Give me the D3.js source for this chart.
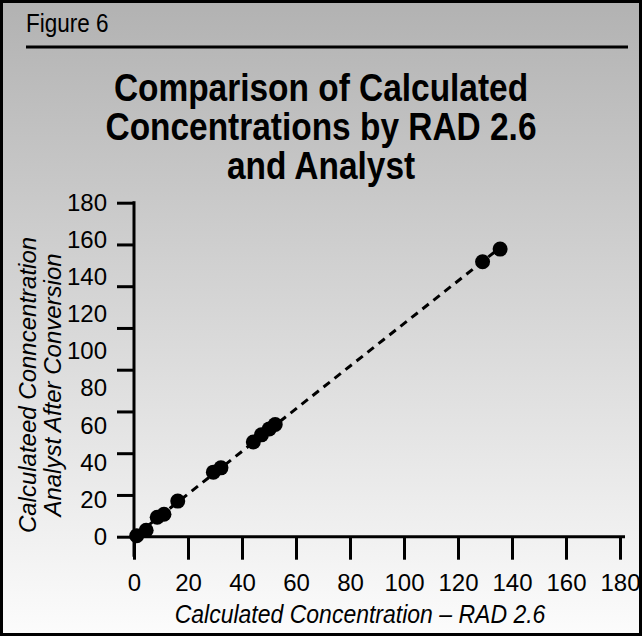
<!DOCTYPE html>
<meta charset="utf-8">
<html>
<head>
<style>
    body { margin: 0; }
    svg text { font-family: "Liberation Sans", Arial, sans-serif; fill: #000; }
</style>
</head>
<body>
<script src="https://d3js.org/d3.v7.min.js"></script>
<svg width="642" height="636"></svg>
<script>

    // readings: RAD 2.6 value vs analyst value after conversion
    var radValues     = [1, 4.5, 8.6, 11.1, 16.2, 29.4, 32.2, 44.2, 47.2, 50.1, 52.3, 129.1, 135.6];
    var analystValues = [0.5, 3.5, 10.5, 12.1, 19.2, 34.8, 37.1, 51.0, 54.9, 58.1, 60.5, 148.2, 155.0];
    var xTicks = [0, 20, 40, 60, 80, 100, 120, 140, 160, 180];
    var yTicks = [0, 20, 40, 60, 80, 100, 120, 140, 160, 180];
    var yTickMarks = [0, 22.5, 45, 67.5, 90, 112.5, 135, 157.5, 180];

    var svg = d3.select("svg");

    // grey-to-white background
    var grad = svg.append("defs").append("linearGradient")
        .attr("id", "bg").attr("x1", 0).attr("y1", 0).attr("x2", 0).attr("y2", 1);
    grad.append("stop").attr("offset", "0%").attr("stop-color", "#b2b2b2");
    grad.append("stop").attr("offset", "100%").attr("stop-color", "#fcfcfc");

    svg.append("rect")
        .attr("x", 1.5).attr("y", 1.5)
        .attr("width", 639).attr("height", 633)
        .attr("fill", "url(#bg)")
        .attr("stroke", "#000")
        .attr("stroke-width", 3);

    // header
    svg.append("text")
        .attr("transform", "translate(26,32) scale(0.9,1)")
        .attr("font-size", "25px")
        .text("Figure 6");

    svg.append("line")
        .attr("x1", 26).attr("x2", 628)
        .attr("y1", 47).attr("y2", 47)
        .attr("stroke", "#000").attr("stroke-width", 3);

    var titleLines = ["Comparison of Calculated", "Concentrations by RAD 2.6", "and Analyst"];
    svg.append("text")
        .attr("transform", "translate(321,0) scale(0.88,1)")
        .attr("text-anchor", "middle")
        .attr("font-size", "38px")
        .attr("font-weight", "bold")
        .selectAll("tspan")
        .data(titleLines)
        .enter().append("tspan")
        .attr("x", 0)
        .attr("y", function (d, i) { return 101 + i * 39; })
        .text(function (d) { return d; });

    // scales
    var x = d3.scaleLinear().domain([0, 180]).range([134, 620]);
    var y = d3.scaleLinear().domain([0, 180]).range([536.7, 202.7]);

    // y axis: tick marks and labels sit on different spacings in the original
    var yMarks = svg.append("g")
        .attr("transform", "translate(" + x(0) + ",0)")
        .call(d3.axisLeft(y).tickValues(yTickMarks).tickSize(17).tickFormat(""));

    var yLabels = svg.append("g")
        .attr("transform", "translate(" + x(0) + ",0)")
        .call(d3.axisLeft(y).tickValues(yTicks).tickSize(0).tickPadding(27));

    var xAxis = svg.append("g")
        .attr("transform", "translate(0," + y(0) + ")")
        .call(d3.axisBottom(x).tickValues(xTicks).tickSize(23).tickPadding(14));

    [yMarks, yLabels, xAxis].forEach(function (g) {
        g.select(".domain").remove();
        g.selectAll(".tick line").attr("stroke", "#000").attr("stroke-width", 3);
        g.selectAll(".tick text")
            .attr("font-family", "Liberation Sans, Arial, sans-serif")
            .attr("font-size", "24px")
            .attr("fill", "#000");
    });

    // axis lines
    svg.append("line")
        .attr("x1", x(0)).attr("x2", x(0))
        .attr("y1", y(180) - 1.5).attr("y2", y(0) + 20)
        .attr("stroke", "#000").attr("stroke-width", 3);
    svg.append("line")
        .attr("x1", x(0)).attr("x2", x(180) + 5)
        .attr("y1", y(0)).attr("y2", y(0))
        .attr("stroke", "#000").attr("stroke-width", 3);

    // fitted dashed line
    var mx = d3.mean(radValues),
        my = d3.mean(analystValues);
    var sxy = d3.sum(radValues, function (v, i) { return (v - mx) * (analystValues[i] - my); }),
        sxx = d3.sum(radValues, function (v) { return (v - mx) * (v - mx); });
    var slope = sxy / sxx,
        intercept = my - slope * mx;
    var x0 = d3.min(radValues), x1 = d3.max(radValues);

    svg.append("line")
        .attr("x1", x(x0)).attr("y1", y(slope * x0 + intercept))
        .attr("x2", x(x1)).attr("y2", y(slope * x1 + intercept))
        .attr("stroke", "#000")
        .attr("stroke-width", 3)
        .attr("stroke-dasharray", "8,6");

    svg.append("g")
        .selectAll("circle")
        .data(radValues)
        .enter().append("circle")
        .attr("cx", function (d) { return x(d); })
        .attr("cy", function (d, i) { return y(analystValues[i]); })
        .attr("r", 7.5)
        .attr("fill", "#000");

    // axis titles
    svg.append("text")
        .attr("transform", "translate(360,623) scale(0.92,1)")
        .attr("text-anchor", "middle")
        .attr("font-size", "25px")
        .attr("font-style", "italic")
        .text("Calculated Concentration \u2013 RAD 2.6");

    svg.append("text")
        .attr("transform", "translate(36,385) rotate(-90)")
        .attr("text-anchor", "middle")
        .attr("font-size", "24px")
        .attr("font-style", "italic")
        .selectAll("tspan")
        .data(["Calculateed Conncentration", "Analyst After Conversion"])
        .enter().append("tspan")
        .attr("x", 0)
        .attr("y", function (d, i) { return i * 25; })
        .text(function (d) { return d; });

</script>
</body>
</html>
